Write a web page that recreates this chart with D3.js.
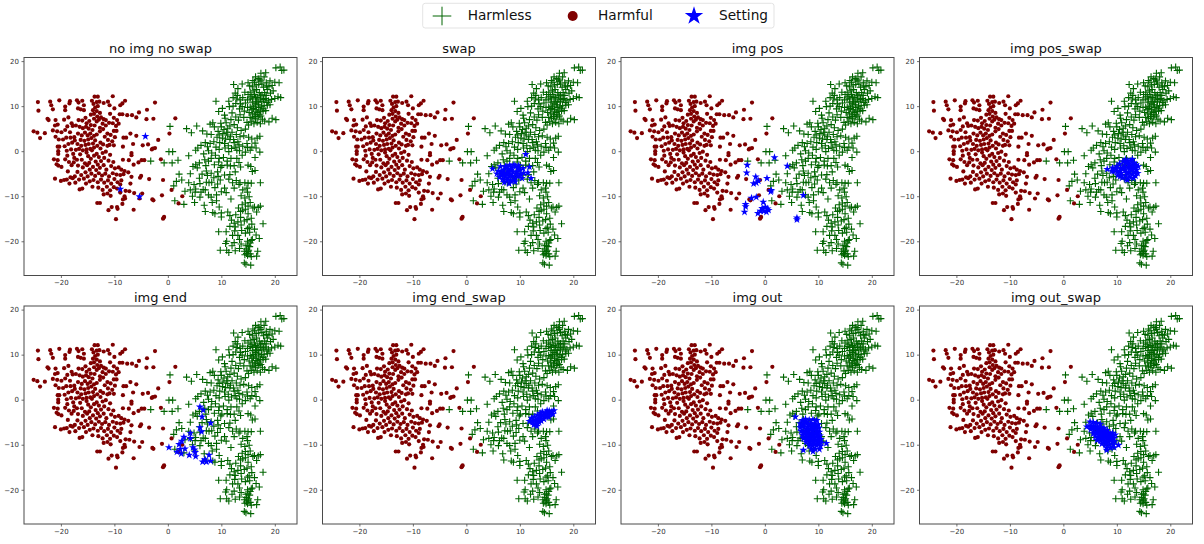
<!DOCTYPE html>
<html>
<head>
<meta charset="utf-8">
<script src="https://cdn.jsdelivr.net/npm/d3@7/dist/d3.min.js"></script>
<style>
  html, body { margin: 0; padding: 0; background: #fff; }
  svg { display: block; }
  text { font-family: "DejaVu Sans", sans-serif; fill: #111; }
</style>
</head>
<body>
<svg id="chart" width="1204" height="544"></svg>
<script>
// Embedding coordinates of the two reference prompt groups (shared by all panels).
const harmful = [
[-25.1,4.4],[-24.4,4.1],[-23.9,2.9],[-23,4],[-24.3,10.9],[-24.2,9],[-22,11],[-21.8,10.2],[-21.5,9.3],[-20.3,11.3],
[-22.5,7.2],[-22.3,6.9],[-21,6.9],[-20.6,5.9],[-21.1,5.7],[-21.5,4.6],[-20.7,4.4],[-19.9,4.2],[-19.2,4.7],[-21,3.2],
[-20.4,2.6],[-19.6,2.6],[-19,3],[-18.2,3],[-17.5,3.1],[-20.6,1],[-20.3,1],[-20.5,0],[-20.5,-0.6],[-21.3,-1.8],
[-20.6,-2],[-20.8,-2.9],[-20.5,-3.2],[-19.9,-3.5],[-21.1,-6.1],[-20,-6.6],[-19.4,-6.4],[-18.9,-6.3],[-18.2,-5.8],[-17.8,-6],
[-18.7,-4.5],[-18.8,-1],[-19.2,-1.8],[-18.5,-2.4],[-18,-3.1],[-17.5,-1.5],[-17,-1.9],[-18.4,-7.2],[-17.3,-7],[-16.5,-8.5],
[-16,-8.3],[-19.2,9.9],[-19.2,9.1],[-18.3,11.1],[-18.4,10.6],[-17,11.3],[-16.7,10.8],[-16,11.2],[-15.7,10.2],[-16.8,9.5],
[-16.3,9.3],[-15.7,9.1],[-19.4,7],[-18.6,7.5],[-18,6.2],[-17.8,5.6],[-17.2,5.7],[-18.8,5.5],[-16.7,6.9],[-16,6.8],
[-15.4,7.4],[-15.2,6.2],[-14.7,6.7],[-16.5,5.4],[-15.9,5.1],[-15.3,5.4],[-14.8,5],[-14.4,5.8],[-14.1,4.7],[-16.8,3.9],
[-16.1,3.5],[-15.5,4.1],[-15,3.5],[-14.5,3.9],[-16.3,2.5],[-15.6,2.3],[-14.9,2.6],[-14.3,2.9],[-13.8,3.4],[-16.9,1.6],
[-16.2,1.2],[-15.4,1.4],[-14.8,1.6],[-14,1.7],[-13.6,2.4],[-17.2,0.3],[-16.6,0.5],[-15.9,0.2],[-15.2,0.4],[-14.5,0.5],
[-13.8,0.8],[-13.2,1.2],[-18.6,1.6],[-17.9,1.9],[-18.1,0.4],[-17.4,2.4],[-19.3,1.1],[-18.9,0.1],[-17.7,-0.6],[-18.3,4.2],
[-12.7,4.4],[-13.3,3.7],[-12.1,4.9],[-11.8,3.2],[-12.6,1.9],[-11.2,2.5],[-10.7,3.6],[-10.4,2.2],[-11.6,6.9],[-12.9,7],
[-16.4,-0.7],[-15.2,-0.3],[-14.9,-1.1],[-14.2,0.2],[-13.3,-0.6],[-12.6,0.6],[-12.1,1.5],[-11.3,1.2],[-10.9,1.4],[-10.1,1.3],
[-16.1,-1.9],[-15.5,-2.7],[-14.4,-1.7],[-13.8,-1],[-12.9,-1.3],[-12.2,-0.4],[-11.6,-0.1],[-10.8,-0.8],[-17.6,-2.5],[-16.8,-3.2],
[-15.9,-3.6],[-15.1,-3.1],[-14.7,-2.6],[-13.5,-2.3],[-13.1,-3],[-12.5,-2.2],[-11.9,-1.5],[-11.1,-2.1],[-10.2,-2.4],[-16.9,-4.6],
[-16.2,-5.3],[-15.4,-4.7],[-14.6,-4.1],[-14,-3.5],[-13.4,-4.2],[-12.7,-3.7],[-12,-3.1],[-11.5,-4.1],[-10.6,-3.3],[-9.9,-3.8],
[-9.2,-3.6],[-8.7,-4.1],[-8.1,-4.4],[-17.4,-5.6],[-16.6,-6.3],[-15.7,-6.1],[-15,-5.6],[-14.3,-5],[-13.6,-5.5],[-12.9,-4.9],
[-12.3,-5.4],[-11.7,-5],[-11,-5.6],[-10.3,-4.9],[-9.6,-5.2],[-8.9,-5.3],[-8.3,-5.1],[-15.3,-7.2],[-14.6,-6.7],[-13.9,-6.4],
[-13.1,-6.9],[-12.5,-6.3],[-11.9,-7],[-11.2,-6.5],[-10.6,-7.2],[-10,-6.2],[-9.4,-6.9],[-8.7,-6.5],[-14.1,-7.9],[-13,-8.1],
[-12.2,-8.6],[-11.4,-7.9],[-10.8,-8.7],[-10.1,-8],[-9.5,-8.3],[-8.9,-7.4],[-11.3,-9.4],[-10.7,-9.9],[-12,-9.6],
[-13.7,5.7],[-13.3,6.6],[-12.7,5.2],[-12.2,6.1],[-11.6,5.7],[-11,6.3],[-13.8,7.2],[-13.2,7.7],[-12.5,7.5],[-12,7.1],
[-14.4,8.1],[-13.8,8.3],[-13.3,8.9],[-12.7,8.5],[-14,9.1],[-13.6,9.7],[-13.1,10],[-13.9,10.5],[-13.3,10.9],[-12.8,11],
[-14.2,11.2],[-13.7,12.1],[-13.1,12.1],[-10.3,12.2],[-8.9,10.2],[-8,11.2],[-8.5,10.6],[-11.2,11],[-12,10.7],[-10.9,10.2],
[-10,9.5],[-9,8.2],[-8.5,8.2],[-7.6,8],[-6.7,8],[-5.9,7.5],[-5.4,8.6],[-3.9,9.2],[-2.4,10.8],[-4,7.1],
[-2.7,7.2],[-10.8,8.3],[-10.1,7.4],[-9.5,6.9],[-10.3,6.2],[-9.7,5.6],[-9.2,6.1],[-10.1,4.5],[-9.6,4.5],[-11.3,3.9],
[-9.9,3.1],[-7,3.9],[-5.9,3.4],[-7.8,3],[-8.3,3],[-3.7,1.5],[-4.7,1.3],[-1.8,2.5],[-2.8,0.6],[-2.4,0.7],
[-3,0.4],[-6.5,1.6],[-8.4,1],[-6.8,-0.4],[-6.8,-0.9],[-8.4,-1.9],[-7.3,-2],[-4.9,-2],[-4.4,-2],[-5.5,-2.5],
[-6.4,-3],[-1.3,-1.8],[-0.9,-6.4],[-3.5,-6.2],[-5,-5.5],[-5.2,-5.9],[-6.8,-5.7],[-7,-7.2],[-7.4,-4.7],[-7.9,-8.8],
[-7.2,-8.9],[-6.3,-9.3],[-4.8,-9.4],[-5.3,-10.5],[-1.1,-9.8],[-2.9,-10.7],[-2.7,-10.9],[-6.4,-13],[-8,-10.5],[-8.4,-10.7],
[-8.1,-10],[-8.5,-11.7],[-9.5,-12.4],[-9.4,-12.8],[-10.5,-12.4],[-11.1,-13.1],[-9.7,-15.1],[-12.7,-11.5],[-13.2,-11.5],[-0.9,-15],
[-0.7,-14.6],[-0.8,-14.8],[1.4,7.3],[0.3,3.9],[0.7,-8.6],[2.7,-10],[2,-11.6],[-8.9,-9.2]
];

const harmless = [
[20.2,18.5],[21,18.7],[21.3,17.9],[21.7,18],[12.3,14.8],[13.9,14.9],[15,15.2],[16.4,16.5],[17.4,17.3],[18.3,17.4],
[18,16.5],[19.1,15.6],[20.8,15.2],[9,11.1],[9.5,8.8],[11.5,9.9],[10.6,8],[10.7,7.3],[12.6,12.9],[13,12.4],
[13.5,11.4],[14,11.9],[14.5,10.7],[13.6,10.5],[14.9,11.4],[15.4,13.1],[15.8,14.3],[16.2,15.3],[16.6,13.7],[17,14.8],
[17.4,15.6],[17.9,14.2],[18.4,15.2],[16.2,12.6],[16.7,11.9],[17.1,13],[17.6,12.5],[18.1,13],[18.6,13.7],[19.2,12.9],
[19.7,13.4],[20,11.7],[20.6,12.1],[21.1,11.9],[19.4,11.5],[18.8,11.2],[18.2,11.7],[17.6,11.1],[17,10.9],[16.4,10.5],
[15.8,10.9],[15.4,9.8],[16,9.5],[16.5,9.2],[17,9.7],[17.5,10],[18,10.1],[18.6,10.2],[19.1,10.3],[15.2,8.6],
[15.8,8.3],[16.3,8.1],[16.8,8.6],[17.3,8.9],[17.8,8.9],[18.3,9],[15.4,7.5],[15.9,7.3],[16.4,7.2],[16.9,7.6],
[17.4,7.8],[15.6,6.5],[16.1,6.1],[16.7,6.4],[17.3,6.1],[18.1,6.7],[18.9,6.5],[19.5,7.3],[20.2,7],[17.7,7.1],
[14.3,8.9],[13.5,8.1],[14.2,7.5],[13.2,6.9],[12.7,7.6],[12,8.5],[11.8,7],[14.8,6.4],[15.1,5.8],[13,5.2],
[11.2,5.1],[10.5,4.8],[3.5,5],[4.4,4.1],[5.4,5.6],[6.5,4.5],[7.3,3.8],[7.9,6],[8.4,6.3],[8.7,5.4],
[8.1,3.7],[9.6,3.6],[10,5.4],[11.2,3.6],[12,4.2],[12.8,3.7],[13.5,3.2],[14.2,3.4],[15.1,3.1],[15.7,2.7],
[16.7,2.9],[17.2,3.3],[16.3,1.8],[15.7,0.9],[14.8,1.7],[14,1.1],[13.3,1.4],[12.4,1.9],[11.6,2.6],[10.8,2.7],
[10.2,2.9],[9.7,1.9],[9,0.9],[9.6,0.4],[10.7,0.7],[11.3,1.2],[11.9,0.6],[12.6,0.9],[13.4,0.1],[14.5,-0.2],
[15.4,0.2],[16.5,0.7],[17.2,-0.2],[16.3,-1.4],[6.2,1.3],[5.6,0.7],[5.2,0.2],[7,1.9],[7.4,1],[7.6,0.1],
[8.2,-0.4],[8.9,-0.9],[8.1,-1.6],[7.6,-2.2],[6.9,-1.9],[9.6,-1.6],[9.5,-2.4],[8.7,-3],[9.9,-3.6],[10.1,-3.2],
[11.1,-3.1],[11.7,-3.3],[12.4,-3.2],[12.9,-1.6],[13.3,-2.5],[13.6,-3.5],[12.6,-4.6],[15,-3.1],[15.5,-3.4],[15.8,-4.5],
[16.3,-4.3],[3.9,-1],[0.2,-0.1],[-0.7,-2.6],[-3.2,-2.2],[0.8,-2.6],[1.9,-2],[2.1,-5.1],[2.6,-6.4],[1.6,-6.7],
[1.1,-7.7],[0.4,5.5],[0.9,-0.1],[4.7,-3.4],[5.2,-3],[5.5,-3.7],[5.9,-2.6],[4.2,-5],[3.9,-7],[4.9,-7.4],
[5.2,-8.4],[4.2,-8.6],[6,-7.2],[6.6,-8.5],[7.2,-6.9],[7.7,-7],[8.2,-6.9],[7,-8.6],[7.6,-9.7],[8.1,-10.2],
[6,-10.2],[5.1,-9.1],[8.8,-8.1],[9.3,-7.3],[10,-9],[10.6,-8.2],[10.9,-9.2],[9.4,-5.6],[9.8,-6.4],[9.3,-4.6],
[10.6,-5.3],[11.6,-5.2],[12.1,-7],[12.8,-6.5],[13.3,-7.4],[11.8,-10.6],[12.4,-8.2],[13.5,-7],[14.4,-7],[15,-7.1],
[15.6,-7.1],[14,-8.6],[14.9,-9.1],[13.7,-9.9],[14.4,-10.4],[15.2,-10.1],[14.5,-11.5],[13.9,-11.9],[15,-12.2],[14.5,-12.9],
[16.2,-12.4],[16.9,-12.5],[17.3,-12.2],[16.6,-13.5],[17.3,-7],[1.3,-11],[3,-11.8],[5,-11.4],[6.8,-12],[8.3,-11.4],
[9.6,-12.4],[7,-13.4],[8.4,-13.6],[8.8,-13.9],[10,-13.7],[11.2,-13.5],[10,-14.6],[11.6,-14.3],[12.7,-14.1],[13.6,-14.7],
[11.9,-15.3],[12.4,-16],[13.1,-15.7],[14.3,-15.5],[11.6,-16.7],[12.6,-16.8],[13.7,-16.4],[15.2,-16.9],[15.7,-16.2],[17.8,-16.1],
[9.5,-17.9],[10.9,-17.9],[12.1,-18.7],[12.5,-17.7],[13.8,-17.6],[14.5,-18.2],[15.3,-18],[16.2,-17.3],[16.5,-18.6],[17.1,-19.4],
[15.8,-19.6],[11,-20],[10.8,-20.5],[12.4,-20.3],[13.4,-19.6],[14.9,-20],[15.4,-20.4],[15.6,-19.8],[9.8,-22],[11,-22],
[11.4,-22.5],[12.6,-22.1],[13.4,-21.6],[14.3,-22.2],[14.7,-21.7],[15,-22.3],[15.3,-21.2],[14.6,-21],[15,-20.9],[14.4,-23],
[14.9,-23.1],[15.4,-22.8],[15.6,-23.4],[16.6,-23.3],[16.8,-22.2],[14.3,-24.8],[14.6,-25.1],[15.5,-25.3],[15.1,-22],[14.7,-22.7],
[12.2,10],[12.7,10.6],[13.4,9.4],[11.4,11.1],[10.2,9.5],[15,12.6],[15.4,11.8],[15.7,12.2],[16.1,13.4],[16.5,14.7],
[17.2,16],[18.5,14.5],[17.8,9.4],[16.5,8.7],[16.1,10],[16.9,10.3],[17.3,11.6],[18.4,12.4],[19.5,14.6],[20,15.3],
[11,4.2],[11.7,3.2],[12.3,2.6],[13.1,2.1],[9.2,3.1],[10.6,1.7],[11.4,-0.1],[11.8,-1.6],[10.4,-1.4],[7.2,-4.4],
[8.1,-4.9],[8.6,-5.9],[7.4,-5.4],[6.4,-5.1],[9.1,-9.7],[11.4,-6.2],[14.8,-8.2],[14,-13.1],[15.6,-14.9],[9.1,-11],
[15.3,14.5],[15.9,15.7],[16.9,16.1],[17.6,14.9],[18.9,14.3],[16.4,12],[17.3,12.3],[17.9,11.5],[16.6,11.1],[15.9,11.6],
[18.5,10.8],[17.1,8.1],[15.7,9.2],[16.3,7.7],[14.9,9.7],[13.1,13.9],[12.9,11.6],[12.2,11.9],[13.9,9.9],[14.4,13.1],
[9.9,6.2],[10.9,6.3],[11.6,5.6],[12.4,5.9],[13.7,4.6],[14.5,4.9],[9.4,4.4],[10.3,3.9],[12.9,0.2],[11.1,-2.2],
[13.9,-0.9],[14.9,0.8],[6.7,-0.6],[7.9,1.7],[8.6,2.1],[5.9,-6],[7.1,-3.2],[6.2,-9.1],[3.2,-8.9],[4.6,-10],
[13.2,-12.6],[15.4,-11.4],[15.9,-12.6],[13.6,-13.4],[15,-13.9],[14.8,-15.2],[13.1,-18.7],[14.9,-17.2],[12,-21],[13.7,-20.6]
];

// Setting embeddings, one list per condition.
const settingNoImg = [[-4.2,3.3],[-8.9,-8.4],[-5.3,-10.1]];
const settingSwap = [
[4.9,-3.9],[11.1,-0.7],[11.8,-3.5],[11.5,-4.8],[12.1,-6],[6,-4.4],[6.4,-3.4],[6.6,-5.2],[6.8,-6.2],[7,-4.2],
[7.3,-3.4],[7.5,-5],[7.6,-6.4],[7.8,-4],[8.1,-3.1],[8.2,-5.3],[8.3,-6.6],[8.5,-3.7],[8.7,-4.7],[8.9,-3],
[9,-6],[9.2,-3.4],[9.4,-4.5],[9.6,-5.6],[9.8,-3.2],[10,-4.2],[10.2,-5.1],[10.4,-6],[10.6,-3.8],[10.7,-4.9],
[6.2,-5.8],[7.1,-6.9],[8,-7.2],[9.1,-6.8],[6.5,-4.6],[7.2,-5.6],[7.9,-4.6],[8.6,-5.6],[9.3,-5.1],[7.5,-3.6],
[8.4,-4.2],[9.7,-3.9],[7.8,-5.9],[6.9,-4.9],[8.9,-6.4],[9.9,-5.4],[5.7,-5]
];
const settingImgPos = [
[-3.3,-3.1],[-3.4,-4.8],[-1.7,-5.7],[0.4,-6],[-2.1,-7.2],[-1.6,-7],[-1.2,-6.6],[1.2,-8.7],[1.1,-9],[-2.5,-10.4],
[-1.6,-10.2],[-3.6,-11.8],[-3.6,-12.3],[-3.8,-13.5],[-0.3,-11.3],[0.1,-12.4],[-0.5,-12.7],[0.5,-12.8],[-0.2,-13.3],[0.3,-13.5],
[0.7,-13.1],[-1.3,-13.8],[1.8,-1.4],[4.2,-3.3],[7.2,-9.8],[6,-14.8],[6,-15.2],[-0.8,-13.3]
];
const settingImgPosSwap = [
[8.2,-4],[9.2,-3.7],[10,-3.4],[10.1,-4.6],[10.2,-5.4],[10.5,-2.8],[10.7,-3.8],[10.8,-4.9],[11,-5.9],[11.2,-2.3],
[11.4,-3.2],[11.5,-4.3],[11.6,-5.4],[11.8,-6.2],[12,-2.1],[12.1,-3.6],[12.2,-2.9],[12.3,-4.7],[12.4,-5.7],[12.6,-2.2],
[12.7,-3.4],[12.8,-4.2],[12.9,-5.1],[13.1,-6],[13.2,-2.6],[13.3,-3.7],[13.4,-4.7],[13.5,-5.5],[13.6,-3],[13.7,-4.2],
[12,-6.4],[12.9,-1.8],[11.6,-1.9],[14,-3.4],[13.9,-4.9],[9.4,-4.5],[9.8,-3.9],[10.6,-4.4],[11.1,-3.9],[11.9,-4.9],
[12.4,-3.9],[13,-3.1],[10.6,-5.6],[11.5,-3.7],[12.9,-3.9],[11.7,-2.6],[9.1,-4.4]
];
const settingImgEnd = [
[6,-1.6],[6.6,-2.3],[6.4,-3.8],[8,-5.2],[4.2,-7.4],[6,-6.2],[6.3,-7.1],[3,-8.3],[4.2,-8.6],[2.6,-9.2],
[2.1,-9.9],[0.2,-10.6],[1.7,-11.6],[2.5,-12],[3.2,-10.9],[4.7,-10.6],[5.1,-11.7],[5.2,-12.6],[4,-12.3],[7.7,-12.3],
[6.5,-13.8],[7.2,-13.8],[6.9,-13.3],[8,-13.6],[2.3,-11],[5,-11.1]
];
const settingImgEndSwap = [
[11.8,-4.8],[12.2,-4.1],[12.4,-5],[12.7,-3.8],[12.9,-4.6],[13,-5.5],[13.3,-3.4],[13.4,-4.2],[13.6,-5],[13.8,-3],
[13.9,-3.8],[14,-4.7],[14.2,-2.7],[14.4,-3.4],[14.5,-4.3],[14.8,-2.9],[14.9,-3.7],[15.1,-2.4],[15.2,-3.1],[15.4,-3.9],
[15.5,-2.5],[15.7,-3.2],[16,-2.6],[16.2,-3.2],[16.4,-2.4],[12.6,-5.6],[13.2,-5.9],[13.1,-4.9],[14.1,-3.5],[13.7,-4.2],
[15,-3.3],[14.6,-3.7],[13.3,-5.2]
];
const settingImgOut = [
[5.7,-3.8],[7,-4.6],[7.6,-4.3],[8.3,-4.5],[9,-4.4],[9.7,-4.6],[6.6,-5.3],[7.2,-5.4],[7.9,-5.3],[8.6,-5.3],
[9.3,-5.3],[10,-5.5],[6.6,-6.2],[7.3,-6.2],[8,-6.1],[8.7,-6.2],[9.4,-6.1],[10.1,-6.3],[6.8,-7],[7.5,-7],
[8.2,-7],[8.9,-7],[9.6,-7],[10.2,-7.2],[7,-7.8],[7.7,-7.8],[8.4,-7.8],[9.1,-7.8],[9.8,-7.8],[10.3,-8],
[7.2,-8.6],[7.9,-8.6],[8.6,-8.6],[9.3,-8.6],[10,-8.6],[10.5,-8.8],[7.7,-9.4],[8.4,-9.4],[9.1,-9.4],[9.8,-9.5],
[10.5,-9.6],[11.5,-9.7],[8.3,-10.2],[9,-10.2],[9.7,-10.2],[10.4,-10.3],[8.7,-10.9],[9.4,-11],[10.2,-11],[9,-11.5],
[7.2,-11.2],[7.6,-4.9],[8.2,-5.7],[8.9,-5.7],[7,-5.8],[9.7,-5.8],[7.9,-6.6],[8.6,-6.6],[9.2,-6.6],[7.3,-7.4],
[8,-7.4],[8.8,-7.4],[9.5,-7.4],[7.6,-8.2],[8.3,-8.2],[9,-8.2],[9.7,-8.2],[8,-9],[8.7,-9],[9.4,-9],
[10.1,-9.1],[8.6,-9.8],[9.3,-9.8],[10,-9.9]
];
const settingImgOutSwap = [
[5,-4.9],[5.6,-5],[6.2,-5.2],[6.9,-5.4],[4.4,-6],[5,-5.8],[5.6,-5.9],[6.3,-6],[7,-6.2],[7.6,-6.3],
[8.2,-6.8],[5.1,-6.6],[5.7,-6.7],[6.4,-6.8],[7,-6.9],[7.7,-7],[8.4,-7.3],[9.2,-7.4],[5.6,-7.5],[6.2,-7.5],
[6.9,-7.6],[7.6,-7.7],[8.3,-7.9],[9,-8],[9.7,-7.8],[6,-8.2],[6.6,-8.3],[7.3,-8.4],[8,-8.5],[8.7,-8.6],
[9.4,-8.6],[6.3,-9],[7,-9.1],[7.7,-9.2],[8.4,-9.3],[9.1,-9.3],[9.6,-9.3],[7.2,-9.8],[7.9,-10],[8.6,-10],
[9.3,-10],[10.3,-10.1],[8.1,-10.7],[8.8,-10.7],[9.5,-10.6],[8.1,-11.2],[5.3,-6.2],[6,-6.4],[6.7,-6.5],[7.3,-6.6],
[6.3,-7.2],[7.2,-7.3],[8,-7.4],[8.8,-7.7],[6.9,-8],[7.6,-8.1],[8.3,-8.6],[9,-8.8],[7.4,-8.9],[8,-9.6]
];

const panelTitles = ["no img no swap", "swap", "img pos", "img pos_swap", "img end", "img end_swap", "img out", "img out_swap"];
const panelSettings = [settingNoImg, settingSwap, settingImgPos, settingImgPosSwap, settingImgEnd, settingImgEndSwap, settingImgOut, settingImgOutSwap];
const xTicks = [-20, -10, 0, 10, 20];
const yTicks = [-20, -10, 0, 10, 20];
const legendLabels = ["Harmless", "Harmful", "Setting"];

const colors = { harmless: "#006400", harmful: "#7f0000", setting: "#0000ff" };

const svg = d3.select("#chart");
const panelW = 273, panelH = 218;
const originX = 24, originY = 57.5, stepX = 298.5, stepY = 248.5;

const x = d3.scaleLinear().domain([-26.9, 24.15]).range([0, panelW]);
const y = d3.scaleLinear().domain([20.8, -27.6]).range([0, panelH]);

const plusPath = r => `M${-r},0H${r}M0,${-r}V${r}`;
const starSmall = d3.symbol().type(d3.symbolStar).size(20)();
const starLarge = d3.symbol().type(d3.symbolStar).size(105)();

panelTitles.forEach((title, i) => {
  const g = svg.append("g")
    .attr("transform", `translate(${originX + (i % 4) * stepX},${originY + Math.floor(i / 4) * stepY})`);

  g.append("g").selectAll("path").data(harmless).join("path")
    .attr("d", plusPath(3.5))
    .attr("transform", d => `translate(${x(d[0])},${y(d[1])})`)
    .attr("fill", "none").attr("stroke", colors.harmless).attr("stroke-width", 1.1);

  g.append("g").selectAll("circle").data(harmful).join("circle")
    .attr("cx", d => x(d[0])).attr("cy", d => y(d[1])).attr("r", 2.1)
    .attr("fill", colors.harmful);

  g.append("g").selectAll("path").data(panelSettings[i]).join("path")
    .attr("d", starSmall)
    .attr("transform", d => `translate(${x(d[0])},${y(d[1])})`)
    .attr("fill", colors.setting);

  const xAxis = g.append("g").attr("transform", `translate(0,${panelH})`)
    .call(d3.axisBottom(x).tickValues(xTicks).tickSize(2.5).tickPadding(2.5).tickFormat(d3.format("d")));
  const yAxis = g.append("g")
    .call(d3.axisLeft(y).tickValues(yTicks).tickSize(2.5).tickPadding(2.5).tickFormat(d3.format("d")));

  [xAxis, yAxis].forEach(a => {
    a.selectAll("text").attr("font-size", 7).style("font-family", '"DejaVu Sans", sans-serif').style("fill", "#333");
    a.selectAll("line").attr("stroke", "#333").attr("stroke-width", 0.7);
    a.select(".domain").remove();
  });

  g.append("rect").attr("width", panelW).attr("height", panelH)
    .attr("fill", "none").attr("stroke", "#4a4a4a").attr("stroke-width", 1);

  g.append("text").attr("x", panelW / 2).attr("y", -4.5)
    .attr("text-anchor", "middle").attr("font-size", 13).text(title);
});

// Shared legend across the top of the figure.
const legend = svg.append("g");
legend.append("rect")
  .attr("x", 422.7).attr("y", 3.3).attr("width", 351.3).attr("height", 24.7).attr("rx", 2.5)
  .attr("fill", "#fff").attr("stroke", "#dcdcdc").attr("stroke-width", 0.8);
legend.append("path").attr("d", plusPath(9.3)).attr("transform", "translate(442,16)")
  .attr("fill", "none").attr("stroke", colors.harmless).attr("stroke-width", 1);
legend.append("circle").attr("cx", 572.7).attr("cy", 16).attr("r", 5).attr("fill", colors.harmful);
legend.append("path").attr("d", starLarge).attr("transform", "translate(694,16)").attr("fill", colors.setting);
[[467.7], [598], [719]].forEach((p, i) => {
  legend.append("text").attr("x", p[0]).attr("y", 20.3).attr("font-size", 13.7).text(legendLabels[i]);
});
</script>
</body>
</html>
